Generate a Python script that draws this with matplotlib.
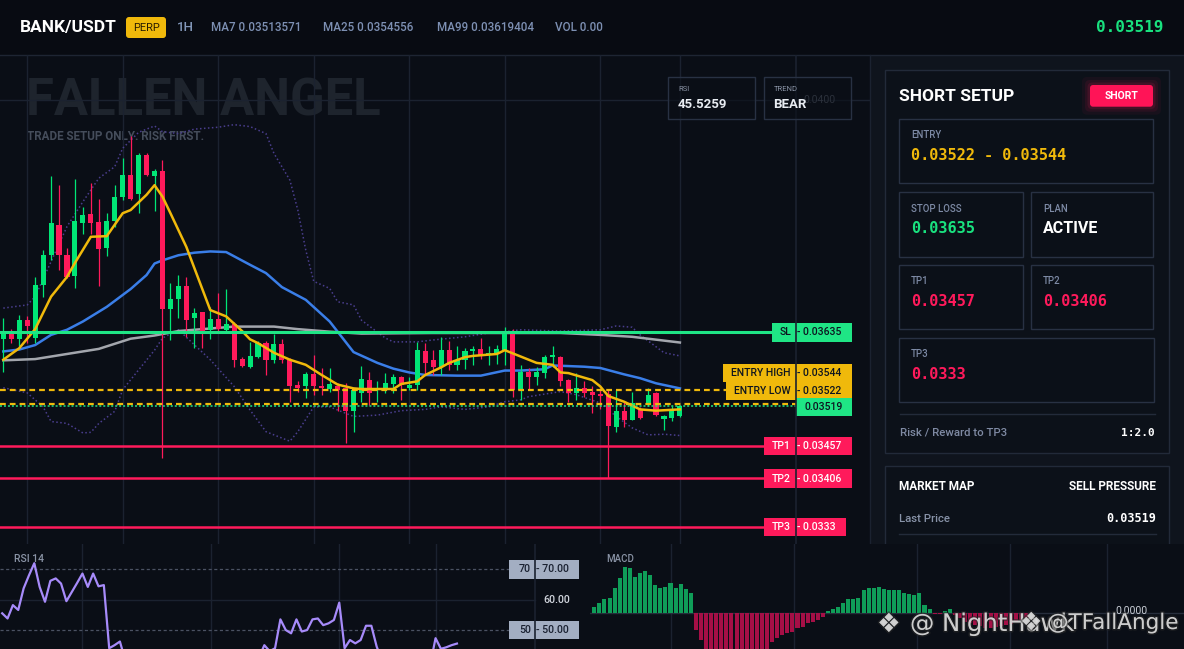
import numpy as np
import matplotlib
matplotlib.use("Agg")
import matplotlib.pyplot as plt
from matplotlib.patches import Rectangle, FancyBboxPatch
from matplotlib.colors import to_rgba
import matplotlib.patheffects as pe

plt.rcParams['font.family'] = ['Roboto', 'DejaVu Sans']
MONO = ['DejaVu Sans Mono', 'DejaVu Sans']

# ---------------- data ----------------
pair = "BANK/USDT"
timeframe = "1H"
ma7_last, ma25_last, ma99_last = "0.03513571", "0.0354556", "0.03619404"
vol_last = "0.00"
last_price_txt = "0.03519"
rsi_last = "45.5259"
trend = "BEAR"
plan = "ACTIVE"
risk_reward = "1:2.0"

# candles (price in 1e-5 units)
c_open = [3624, 3636, 3624, 3655, 3626, 3709, 3756, 3803, 3756, 3723,
          3806, 3821, 3808, 3767, 3809, 3848, 3882, 3852, 3913, 3881,
          3888, 3672, 3687, 3708, 3657, 3667, 3639, 3656, 3639, 3648,
          3593, 3581, 3597, 3618, 3591, 3617, 3591, 3552, 3550, 3570,
          3551, 3546, 3551, 3547, 3511, 3540, 3560, 3545, 3545, 3554,
          3565, 3547, 3552, 3606, 3591, 3580, 3607, 3583, 3592, 3605,
          3609, 3600, 3601, 3607, 3636, 3545, 3573, 3565, 3571, 3597,
          3597, 3560, 3540, 3547, 3542, 3538, 3538, 3487, 3511, 3498,
          3514, 3521, 3540, 3499, 3500, 3503]
c_high = [3657, 3640, 3662, 3660, 3722, 3765, 3880, 3866, 3767, 3875,
          3832, 3870, 3845, 3822, 3866, 3908, 3943, 3916, 3916, 3892,
          3905, 3712, 3725, 3722, 3673, 3667, 3674, 3696, 3703, 3651,
          3597, 3620, 3622, 3622, 3632, 3624, 3594, 3558, 3573, 3599,
          3579, 3579, 3555, 3555, 3547, 3582, 3572, 3558, 3571, 3570,
          3567, 3565, 3620, 3618, 3608, 3627, 3622, 3614, 3610, 3614,
          3626, 3613, 3615, 3643, 3641, 3584, 3579, 3581, 3600, 3614,
          3598, 3562, 3571, 3559, 3551, 3547, 3545, 3545, 3525, 3542,
          3518, 3547, 3542, 3505, 3520, 3520]
c_low = [3573, 3618, 3613, 3618, 3618, 3691, 3748, 3733, 3720, 3704,
         3790, 3790, 3707, 3755, 3801, 3843, 3843, 3823, 3880, 3826,
         3438, 3623, 3657, 3628, 3610, 3610, 3624, 3636, 3636, 3581,
         3580, 3579, 3594, 3568, 3587, 3587, 3526, 3542, 3532, 3537,
         3537, 3542, 3511, 3461, 3479, 3526, 3521, 3526, 3540, 3540,
         3529, 3545, 3545, 3568, 3568, 3568, 3576, 3576, 3577, 3584,
         3593, 3584, 3586, 3584, 3533, 3529, 3546, 3552, 3563, 3581,
         3550, 3526, 3529, 3533, 3508, 3514, 3406, 3478, 3486, 3498,
         3499, 3520, 3503, 3481, 3495, 3502]
c_close = [3636, 3624, 3655, 3645, 3709, 3756, 3807, 3756, 3722, 3809,
           3819, 3807, 3766, 3810, 3848, 3882, 3845, 3913, 3882, 3888,
           3672, 3688, 3708, 3654, 3666, 3636, 3656, 3640, 3648, 3592,
           3582, 3598, 3618, 3592, 3617, 3591, 3550, 3547, 3570, 3550,
           3548, 3554, 3545, 3511, 3545, 3561, 3540, 3547, 3555, 3565,
           3552, 3552, 3607, 3587, 3580, 3607, 3584, 3592, 3606, 3609,
           3600, 3602, 3609, 3636, 3545, 3573, 3565, 3572, 3597, 3598,
           3558, 3540, 3547, 3540, 3537, 3535, 3488, 3511, 3498, 3524,
           3500, 3537, 3505, 3504, 3511, 3519]

ma7_idx = [0, 2, 4, 6, 8, 9, 11, 13, 15, 16, 18, 19, 20, 21, 23, 26, 28, 30, 31, 32,
           34, 36, 38, 40, 42, 44, 45, 49, 50, 52, 53, 55, 56, 58, 59, 62, 63, 65, 67, 69,
           70, 71, 74, 75, 76, 78, 80, 82, 85]
ma7_val = [3592, 3610, 3640, 3691, 3722, 3744, 3785, 3786, 3822, 3827, 3851, 3866, 3848, 3822,
           3769, 3670, 3660, 3637, 3624, 3618, 3603, 3592, 3584, 3568, 3553, 3547, 3546, 3546,
           3554, 3558, 3568, 3580, 3587, 3596, 3598, 3601, 3607, 3597, 3587, 3584, 3572, 3571,
           3560, 3550, 3535, 3526, 3514, 3512, 3514]
ma25_idx = [0, 2, 4, 6, 8, 10, 13, 16, 18, 19, 20, 22, 24, 26, 28, 31, 33, 35, 38, 41,
            43, 44, 47, 49, 51, 53, 57, 60, 63, 65, 68, 69, 73, 75, 78, 80, 82, 85]
ma25_val = [3605, 3608, 3615, 3631, 3639, 3652, 3675, 3703, 3725, 3743, 3748, 3756, 3760, 3762,
            3761, 3741, 3728, 3706, 3686, 3652, 3620, 3604, 3587, 3578, 3572, 3568, 3567, 3567,
            3575, 3575, 3577, 3583, 3581, 3579, 3569, 3563, 3555, 3547]
ma99_idx = [0, 4, 8, 12, 16, 19, 22, 26, 29, 34, 37, 41, 45, 54, 62, 70, 75, 79, 83, 85]
ma99_val = [3591, 3593, 3601, 3609, 3625, 3630, 3637, 3641, 3644, 3644, 3640, 3636, 3633, 3634,
            3634, 3634, 3631, 3628, 3622, 3619]
bb_up_idx = [0, 3, 4, 6, 8, 10, 12, 14, 15, 17, 19, 20, 22, 24, 27, 29, 31, 33, 34, 36,
             37, 38, 39, 41, 42, 44, 45, 48, 49, 52, 54, 58, 61, 63, 65, 70, 75, 77, 79, 80,
             83, 85]
bb_up_val = [3673, 3678, 3691, 3746, 3801, 3840, 3877, 3895, 3924, 3949, 3959, 3950, 3947, 3954,
             3957, 3961, 3958, 3947, 3916, 3874, 3827, 3764, 3715, 3704, 3683, 3678, 3654, 3626,
             3620, 3620, 3623, 3628, 3634, 3636, 3639, 3637, 3639, 3645, 3643, 3631, 3603, 3598]
bb_lo_idx = [0, 3, 5, 6, 8, 10, 11, 12, 14, 15, 17, 19, 20, 22, 26, 29, 31, 33, 36, 37,
             39, 41, 44, 47, 50, 53, 55, 58, 61, 63, 65, 66, 70, 72, 75, 77, 79, 81, 83, 85]
bb_lo_val = [3548, 3540, 3518, 3495, 3492, 3477, 3478, 3492, 3511, 3545, 3576, 3607, 3626, 3639,
             3592, 3550, 3513, 3479, 3464, 3479, 3518, 3518, 3503, 3505, 3512, 3514, 3518, 3514,
             3518, 3526, 3529, 3534, 3542, 3537, 3524, 3503, 3485, 3474, 3475, 3473]

rsi14 = [55.5, 53.8, 58.2, 56.6, 63.7, 68, 72, 64.2, 59.3, 66.2,
         67, 65.3, 59.5, 62.5, 65.5, 68.6, 64.2, 68.6, 64.4, 64.8,
         44, 45, 46.2, 40, 41, 38, 40, 38.5, 40, 34,
         33, 36, 39, 35, 39, 35, 31, 30.5, 35, 32,
         32, 33.5, 32.5, 27, 34, 38, 35, 38, 41, 45,
         43, 44, 53.5, 50, 48.9, 53.5, 49.5, 50, 53.5, 53.8,
         51.6, 52.2, 53.3, 59, 44, 46.7, 45.6, 46.7, 51.4, 51.4,
         44.5, 40, 42, 40.5, 39, 38.5, 30, 38, 36, 41,
         38.5, 47.3, 43.8, 44.3, 45, 45.53]
rsi_levels = [70, 60, 50]

# MACD histogram (1e-6 units)
macd_hist = [6, 9.3, 13.3, 15, 24.3, 34.3, 46, 44.3, 35.3, 39.3,
             41.7, 37.7, 27.7, 25, 26, 29.3, 24.3, 28.3, 23.3, 19.3,
             -17.3, -27, -38, -46, -52, -56, -58, -58, -56, -56,
             -54, -50, -46, -42, -37, -29, -25.7, -22.3, -20.7, -19,
             -15.7, -14, -10.7, -9, -7.3, -4.7, 2, 3.3, 6, 9.3,
             13.3, 13.3, 14.3, 22.7, 24.3, 24.3, 26, 24, 22.3, 23,
             22.3, 20, 18.3, 17.3, 19.7, 7.3, 3.3, -1, -1.5, 1.7,
             3.3, -2, -5.5, -9.5, -10.5, -12.5, -13.5, -15.5, -15.5, -14.5,
             -13.5, -12.5, -11.5, -9.5, -7.5, -5.5]

sl_price = 0.03635
entry_high = 0.03544
entry_low = 0.03522
last_price = 0.03519
tp1, tp2, tp3 = 0.03457, 0.03406, 0.0333
grid_price = 0.0400

# ---------------- styling ----------------
BG = '#0a0e16'
HEAD = '#080b12'
GRID = '#1b2230'
COL = '#0f141d'
BOXF = '#0c1119'
BOXE = '#222a39'
INF = '#0b1018'
INE = '#283143'
GREEN = '#00e676'
LGREEN = '#1fe585'
RED = '#ff1a5b'
YEL = '#f0b90b'
LBL = '#7d8aa5'

W, H = 1184, 649
fig = plt.figure(figsize=(W / 100, H / 100), dpi=100)
fig.patch.set_facecolor(BG)


def axes_px(x0, y0, x1, y1, z):
    return fig.add_axes([x0 / W, 1 - y1 / H, (x1 - x0) / W, (y1 - y0) / H], zorder=z)


def bare(a, face=None):
    for s in a.spines.values():
        s.set_visible(False)
    a.set_xticks([])
    a.set_yticks([])
    if face is None:
        a.patch.set_alpha(0)
    else:
        a.set_facecolor(face)


# background layer (pixel coordinates)
bg = axes_px(0, 0, W, H, 0)
bg.set_xlim(0, W)
bg.set_ylim(H, 0)
bg.axis('off')
bg.add_patch(Rectangle((0, 0), W, 55, fc=HEAD, ec='none'))
bg.add_patch(Rectangle((870, 55), W - 870, H - 55, fc=COL, ec='none'))
bg.plot([0, W], [55, 55], color='#1e2533', lw=1)
bg.plot([870, 870], [55, 545], color=GRID, lw=1)

# header
bg.text(20, 27.5, pair, fontsize=12.5, fontweight='bold', color='white', va='center')
bg.add_patch(FancyBboxPatch((126, 17), 40, 21, boxstyle='round,pad=0,rounding_size=3',
                            fc=YEL, ec='none'))
bg.text(146, 27.8, "PERP", fontsize=8, color='#2a1d00', ha='center', va='center')
bg.text(177, 27.5, timeframe, fontsize=9.5, fontweight='medium', color='#8196b8', va='center')
hdr_col = '#7d90b3'
hdr = dict(fontsize=8.4, fontweight='medium', color=hdr_col, va='center')
bg.text(211, 27.5, f"MA7 {ma7_last}", **hdr)
bg.text(323, 27.5, f"MA25 {ma25_last}", **hdr)
bg.text(437, 27.5, f"MA99 {ma99_last}", **hdr)
bg.text(555, 27.5, f"VOL {vol_last}", **hdr)
bg.text(1163, 28, last_price_txt, fontsize=11.5, fontweight='bold', color='#19e27f',
        ha='right', va='center', family=MONO)

# watermark
bg.text(26, 102, "FALLEN ANGEL", fontsize=36.5, fontweight='bold', color='#1e242d', va='center')
bg.text(27, 137, "TRADE SETUP ONLY. RISK FIRST.", fontsize=8.4, fontweight='bold',
        color='#454d5b', va='center')

# right panel
bg.add_patch(Rectangle((885, 70), 284, 383, fc=BOXF, ec=BOXE, lw=1))
bg.add_patch(Rectangle((885, 466), 284, 150, fc=BOXF, ec=BOXE, lw=1))
bg.text(899, 96.5, "SHORT SETUP", fontsize=12.5, fontweight='bold', color='white', va='center')
for k, a in [(8, 0.05), (5, 0.08), (2.5, 0.12)]:
    bg.add_patch(FancyBboxPatch((1090 - k, 85 - k), 63 + 2 * k, 21.7 + 2 * k,
                                boxstyle='round,pad=0,rounding_size=5', fc=RED, ec='none', alpha=a))
bg.add_patch(FancyBboxPatch((1090, 85), 63, 21.7, boxstyle='round,pad=0,rounding_size=3',
                            fc='#ff1457', ec='none'))
bg.text(1121.5, 96.2, "SHORT", fontsize=7.5, fontweight='bold', color='white', ha='center', va='center')

inner = [(899, 119, 254, 64), (899, 192, 123.7, 64.7), (1031, 192, 122, 64.7),
         (899, 265.3, 123.7, 64), (1031, 265.3, 122, 64), (899, 338.3, 255, 64)]
for (x, y, w, h) in inner:
    bg.add_patch(Rectangle((x, y), w, h, fc=INF, ec=INE, lw=1))


def lab(x, y, s):
    bg.text(x, y, s, fontsize=6.9, fontweight='medium', color=LBL, va='center')


def val(x, y, s, c, size=11, mono=True, ha='left'):
    bg.text(x, y, s, fontsize=size, fontweight='bold', color=c, va='center', ha=ha,
            family=MONO if mono else None)


lab(911, 135.5, "ENTRY")
val(911, 156, f"{entry_low:.5f} - {entry_high:.5f}", YEL)
lab(911, 208.5, "STOP LOSS")
val(911, 228.5, f"{sl_price:.5f}", '#19e27f')
lab(1043, 208.5, "PLAN")
val(1043, 228.5, plan, 'white', size=11.5, mono=False)
lab(911, 281.5, "TP1")
val(911, 301.5, f"{tp1:.5f}", RED)
lab(1043, 281.5, "TP2")
val(1043, 301.5, f"{tp2:.5f}", RED)
lab(911, 354.3, "TP3")
val(911, 374.3, f"{tp3:g}", RED)
bg.plot([900, 1155], [414, 414], color='#232b3a', lw=1)
bg.text(900, 432.5, "Risk / Reward to TP3", fontsize=8.2, fontweight='medium', color='#7f8aa3', va='center')
val(1155, 432.5, risk_reward, 'white', size=8, ha='right')
bg.text(899, 487, "MARKET MAP", fontsize=8.5, fontweight='bold', color='white', va='center')
bg.text(1156, 487, "SELL PRESSURE", fontsize=8.5, fontweight='bold', color='white', va='center', ha='right')
bg.text(899, 519, "Last Price", fontsize=8.2, fontweight='medium', color='#8893a8', va='center')
val(1156, 519, last_price_txt, 'white', size=8.5, ha='right')
bg.plot([899, 1156], [534.3, 534.3], color='#232b3a', lw=1)

# ---------------- main chart ----------------
PXI, PX0 = 7.96, 3.3
YLO, YHI = 0.033011, 0.040704
PPU = 490 / (YHI - YLO)


def ix(px):
    return (px - PX0) / PXI


ax = axes_px(0, 55, 870, 545, 2)
bare(ax)
ax.set_xlim(ix(0), ix(870))
ax.set_ylim(YLO, YHI)

for g in [3, 15, 27, 39, 51, 63, 75, 85]:
    ax.axvline(g, color=GRID, lw=1, zorder=0)
ax.axhline(grid_price, color=GRID, lw=1, zorder=0)
ax.text(ix(803), grid_price, f"{grid_price:.4f}", fontsize=7.5, color='#5d6573', va='center', zorder=1)

scale = 1e5
ax.plot(bb_up_idx, np.array(bb_up_val) / scale, color='#4a3e8e', lw=1.1, ls=(0, (1, 1.6)), zorder=2)
ax.plot(bb_lo_idx, np.array(bb_lo_val) / scale, color='#4a3e8e', lw=1.1, ls=(0, (1, 1.6)), zorder=2)
ax.plot(ma99_idx, np.array(ma99_val) / scale, color='#a3a6ad', lw=1.8, zorder=3)
ax.plot(ma25_idx, np.array(ma25_val) / scale, color='#3a7ee8', lw=1.8, zorder=3)

o = np.array(c_open) / scale
h_ = np.array(c_high) / scale
l_ = np.array(c_low) / scale
c = np.array(c_close) / scale
idx = np.arange(len(o))
cols = np.where(c >= o, GREEN, RED)
ax.vlines(idx, l_, h_, colors=cols, lw=0.9, zorder=5)
ax.bar(idx, np.maximum(np.abs(c - o), 1.4 / PPU), bottom=np.minimum(o, c), width=0.64,
       color=cols, linewidth=0, zorder=6)
ax.plot(ma7_idx, np.array(ma7_val) / scale, color=YEL, lw=1.8, zorder=7)

# levels
ax.axhline(sl_price, xmin=0, xmax=772 / 870, color=LGREEN, lw=2.2, zorder=8)
ax.axhline(entry_high, xmin=0, xmax=796 / 870, color=YEL, lw=1.6, ls=(0, (2.6, 1.8)), zorder=8)
ax.axhline(entry_low, xmin=0, xmax=796 / 870, color=YEL, lw=1.6, ls=(0, (2.6, 1.8)), zorder=8)
ax.axhline(last_price, xmin=0, xmax=796 / 870, color=LGREEN, lw=1.1, ls=(0, (1.3, 1.3)), zorder=8)
for tp in (tp1, tp2, tp3):
    ax.axhline(tp, xmin=0, xmax=764 / 870, color=RED, lw=1.8, zorder=8)


def level_tag(price, dy, x0, x1, name, value, fc, tc, center=False):
    yc = price - dy / PPU
    hh = 18.4 / PPU
    ax.add_patch(Rectangle((ix(x0), yc - hh / 2), ix(x1) - ix(x0), hh, fc=fc, ec='none',
                           zorder=20, clip_on=False))
    kw = dict(va='center', fontsize=7.5, fontweight='medium', color=tc, zorder=21)
    if name:
        ax.text(ix(791), yc, name, ha='right', **kw)
    if center:
        ax.text(ix(824), yc, value, ha='center', **kw)
    else:
        ax.text(ix(797.5), yc, value, ha='left', **kw)


DARK = '#0d1420'
level_tag(sl_price, 0, 772, 852, "SL", f"- {sl_price:.5f}", LGREEN, DARK)
level_tag(entry_high, -17.5, 723, 852, "ENTRY HIGH", f"- {entry_high:.5f}", YEL, DARK)
level_tag(entry_low, -13, 726, 852, "ENTRY LOW", f"- {entry_low:.5f}", YEL, DARK)
level_tag(last_price, 1, 796.5, 852, None, f"{last_price:.5f}", LGREEN, DARK, center=True)
level_tag(tp1, 0.5, 764, 852, "TP1", f"- {tp1:.5f}", RED, 'white')
level_tag(tp2, 0.5, 764, 852, "TP2", f"- {tp2:.5f}", RED, 'white')
level_tag(tp3, 0.3, 764, 846, "TP3", f"- {tp3:g}", RED, 'white')
ax.axvline(ix(796), color=GRID, lw=1.2, zorder=22)

# ---------------- RSI panel ----------------
RPX, RP0 = 5.35, 2.2


def rix(px):
    return (px - RP0) / RPX


rax = axes_px(0, 544, 590, 649, 3)
bare(rax, BG)
rax.set_xlim(rix(0), rix(590))
rax.set_ylim(43.74, 78.34)
for g in [15, 39, 63, 81]:
    rax.axvline(g, color=GRID, lw=1, zorder=0)
rax.axhline(rsi_levels[1], xmin=0, xmax=534.6 / 590, color=GRID, lw=1, zorder=0)
for lv in (rsi_levels[0], rsi_levels[2]):
    rax.axhline(lv, xmin=0, xmax=509 / 590, color='#4b5263', lw=0.9, ls=(0, (2.5, 2)), zorder=1)
rax.plot(np.arange(len(rsi14)), rsi14, color='#a78bfa', lw=1.6, zorder=3)
RU = 3.035
for lv in (rsi_levels[0], rsi_levels[2]):
    rax.add_patch(Rectangle((rix(509), lv - 9.3 / RU), rix(578.6) - rix(509), 18.6 / RU,
                            fc='#a3aec2', ec='none', zorder=5))
    rax.text(rix(531), lv, f"{lv}", ha='right', va='center', fontsize=7.7, fontweight='medium',
             color='#1b2232', zorder=6)
    rax.text(rix(536.5), lv, f"- {lv:.2f}", ha='left', va='center', fontsize=7.7, fontweight='medium',
             color='#1b2232', zorder=6)
rax.text(rix(543), rsi_levels[1], f"{rsi_levels[1]:.2f}", ha='left', va='center', fontsize=7.7,
         fontweight='medium', color='#d0d4dc', zorder=6)
rax.axvline(rix(534.6), color=GRID, lw=1.2, zorder=7)

# ---------------- MACD panel ----------------
MPX, MP0 = 5.08, 594.3


def mix(px):
    return (px - MP0) / MPX


max_ = axes_px(590, 544, 1184, 649, 3)
bare(max_, BG)
max_.set_xlim(mix(590), mix(1184))
max_.set_ylim(-36.5, 68.5)
for gpx in [671.3, 793.8, 917, 1010, 1106.6]:
    max_.axvline(mix(gpx), color=GRID, lw=1, zorder=0)
max_.axhline(0, color='#272e3c', lw=1, zorder=0)
mh = np.array(macd_hist)
max_.bar(np.arange(len(mh)), mh, width=0.8, color=np.where(mh >= 0, '#0f9d58', '#a50f46'),
         linewidth=0, zorder=2)
max_.text(mix(1115), 2, "0.0000", ha='left', va='center', fontsize=7.5, color='#c9ced6', zorder=3)

# ---------------- foreground overlay ----------------
fg = axes_px(0, 0, W, H, 10)
fg.set_xlim(0, W)
fg.set_ylim(H, 0)
fg.axis('off')
boxface = to_rgba(BG, 0.6)
for (x, t, v) in [(668, "RSI", rsi_last), (764, "TREND", trend)]:
    fg.add_patch(Rectangle((x, 76.7), 87, 42.6, fc=boxface, ec=INE, lw=1))
    fg.text(x + 10, 89, t, fontsize=5.5, color='#8a94a6', va='center')
    fg.text(x + 9.5, 104.5, v, fontsize=9.5, fontweight='bold', color='#e8ecf2', va='center')
fg.text(14, 559.5, "RSI 14", fontsize=7.5, fontweight='medium', color='#8a94a6', va='center')
fg.text(606, 559.5, "MACD", fontsize=7, fontweight='medium', color='#8a94a6', va='center')

stroke = [pe.withStroke(linewidth=2.2, foreground='#2a2a2a', alpha=0.55)]
wm = dict(color='#dcdcdc', alpha=0.9, va='center', family=['DejaVu Sans'], path_effects=stroke)
fg.text(877, 625, "\u2756", fontsize=19, **wm)
fg.text(910, 624, "@ NightHawk", fontsize=17.5, **wm)
fg.text(1020, 623, "\u2756", fontsize=18, **wm)
fg.text(1047, 623, "@TFallAngle", fontsize=15.5, **wm)

fig.savefig("out.png", dpi=100, facecolor=BG)
